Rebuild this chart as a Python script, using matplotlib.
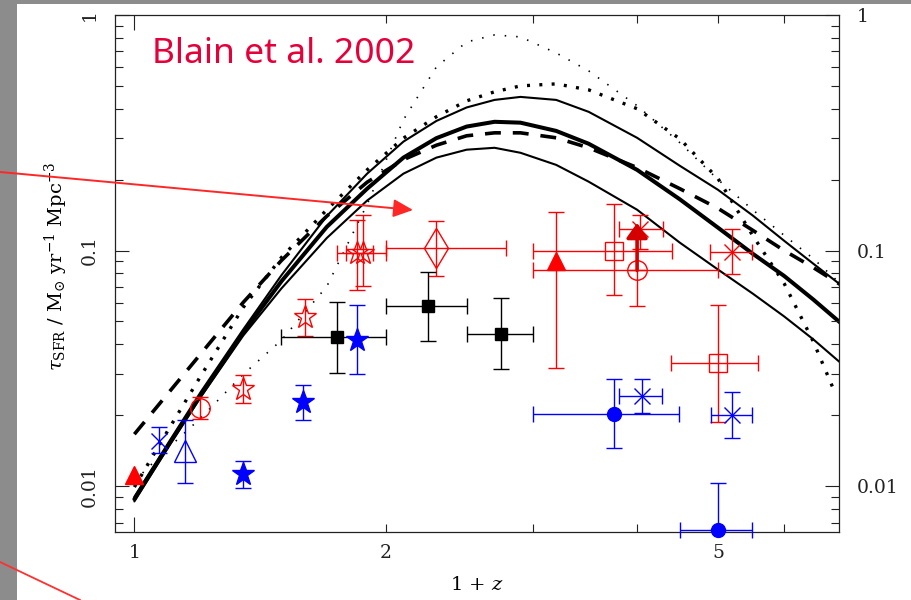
import matplotlib
matplotlib.use("Agg")
import matplotlib.pyplot as plt
from matplotlib.patches import Rectangle, FancyArrowPatch
from matplotlib.lines import Line2D
from matplotlib.ticker import FixedLocator, FixedFormatter, NullFormatter, FuncFormatter

plt.rcParams["font.family"] = ["DejaVu Serif"]
plt.rcParams["mathtext.fontset"] = "dejavuserif"

# ---------------- model star-formation histories (1+z grid) ----------------
opz = [1.0, 1.1, 1.2, 1.35, 1.5, 1.7, 1.9, 2.1, 2.3, 2.5, 2.7, 2.9, 3.2, 3.5,
       4.0, 4.5, 5.0, 5.5, 6.0, 6.5, 7.0]
opz_steep = opz[:-1] + [6.9]

sfr_solid_high = [0.0090, 0.0154, 0.0250, 0.0462, 0.0785, 0.140, 0.212, 0.290,
                  0.355, 0.405, 0.436, 0.449, 0.436, 0.388, 0.301, 0.229, 0.181,
                  0.141, 0.110, 0.088, 0.0718]
sfr_solid_mid = [0.0088, 0.0150, 0.0242, 0.0448, 0.0740, 0.126, 0.183, 0.248,
                 0.300, 0.336, 0.352, 0.349, 0.322, 0.284, 0.220, 0.165, 0.125,
                 0.097, 0.078, 0.062, 0.0495]
sfr_solid_low = [0.0086, 0.0148, 0.0238, 0.0435, 0.0690, 0.113, 0.163, 0.212,
                 0.248, 0.268, 0.273, 0.260, 0.231, 0.196, 0.149, 0.108, 0.083,
                 0.0657, 0.0525, 0.0420, 0.0335]
sfr_dashed = [0.0166, 0.0250, 0.0363, 0.0602, 0.0907, 0.140, 0.195, 0.243,
              0.280, 0.307, 0.316, 0.316, 0.301, 0.273, 0.225, 0.183, 0.151,
              0.122, 0.100, 0.0847, 0.0718]
sfr_dotted_bold = [0.0099, 0.0175, 0.0292, 0.0573, 0.0934, 0.149, 0.220, 0.300,
                   0.370, 0.432, 0.472, 0.500, 0.510, 0.481, 0.400, 0.298, 0.202,
                   0.116, 0.0725, 0.0412, 0.0250]
sfr_dotted_fine = [0.0105, 0.0146, 0.0194, 0.0298, 0.0416, 0.0704, 0.157, 0.359,
                   0.602, 0.768, 0.823, 0.807, 0.690, 0.579, 0.412, 0.287, 0.200,
                   0.149, 0.116, 0.0925, 0.0725]

# ---------------- observed points: x, y and error-bar bounds ----------------
# red: submm / radio / IR estimates
red_tri_x = [1.0, 3.2]
red_tri_y = [0.0111, 0.0907]
red_tri_xlo = [None, None]
red_tri_xhi = [None, None]
red_tri_ylo = [None, 0.0316]
red_tri_yhi = [None, 0.146]

red_circ_x = [1.2, 4.0]
red_circ_y = [0.0214, 0.0823]
red_circ_xlo = [None, 3.0]
red_circ_xhi = [None, 5.0]
red_circ_ylo = [0.0192, 0.0579]
red_circ_yhi = [0.0238, 0.0823]

red_star_x = [1.35, 1.6, 1.85, 1.88]
red_star_y = [0.0258, 0.052, 0.098, 0.098]
red_star_xlo = [None, None, 1.75, 1.79]
red_star_xhi = [None, None, 2.0, 1.93]
red_star_ylo = [0.0225, 0.0432, 0.0677, 0.0704]
red_star_yhi = [0.0295, 0.062, 0.135, 0.142]

red_diam_x = [2.3]
red_diam_y = [0.102]
red_diam_xlo = [2.0]
red_diam_xhi = [2.79]
red_diam_ylo = [0.0776]
red_diam_yhi = [0.133]

red_sq_x = [3.75, 5.0]
red_sq_y = [0.100, 0.0332]
red_sq_xlo = [3.0, 4.39]
red_sq_xhi = [4.4, 5.58]
red_sq_ylo = [0.0645, 0.0187]
red_sq_yhi = [0.158, 0.0585]

red_ast_x = [4.03, 5.2]
red_ast_y = [0.123, 0.099]
red_ast_xlo = [3.81, 4.89]
red_ast_xhi = [4.30, 5.49]
red_ast_ylo = [0.101, 0.0792]
red_ast_yhi = [0.142, 0.124]

# lower limit drawn as an arrow
limit_x = 4.0
limit_from = 0.0823
limit_to = 0.131

# black: optical / UV estimates
blk_sq_x = [1.75, 2.25, 2.75]
blk_sq_y = [0.0428, 0.0579, 0.0441]
blk_sq_xlo = [1.50, 2.0, 2.5]
blk_sq_xhi = [2.0, 2.5, 3.0]
blk_sq_ylo = [0.0301, 0.0411, 0.0313]
blk_sq_yhi = [0.0602, 0.0807, 0.0626]

# blue: H-alpha / UV estimates
blu_ast_x = [1.07, 4.05, 5.2]
blu_ast_y = [0.0155, 0.0241, 0.0200]
blu_ast_xlo = [None, 3.81, 4.9]
blu_ast_xhi = [None, 4.28, 5.49]
blu_ast_ylo = [0.0138, 0.0204, 0.016]
blu_ast_yhi = [0.0178, 0.0284, 0.025]

blu_tri_x = [1.15]
blu_tri_y = [0.0141]
blu_tri_xlo = [None]
blu_tri_xhi = [None]
blu_tri_ylo = [0.0103]
blu_tri_yhi = [0.019]

blu_star_x = [1.35, 1.59, 1.85]
blu_star_y = [0.01125, 0.0227, 0.0416]
blu_star_xlo = [None, None, None]
blu_star_xhi = [None, None, None]
blu_star_ylo = [0.00985, 0.019, 0.0298]
blu_star_yhi = [0.0128, 0.0268, 0.0586]

blu_circ_x = [3.75, 5.0]
blu_circ_y = [0.0202, 0.00651]
blu_circ_xlo = [3.0, 4.5]
blu_circ_xhi = [4.49, 5.49]
blu_circ_ylo = [0.0145, 0.00651]
blu_circ_yhi = [0.0284, 0.0103]

# axis ticks
x_major = [1.0]
x_minor = [2, 3, 4, 5, 6]
x_minor_labels = {2: "2", 5: "5"}
y_major = [0.01, 0.1, 1.0]
y_major_labels = ["0.01", "0.1", "1"]
y_minor = [k * 10.0 ** e for e in (-3, -2, -1) for k in range(2, 10)]

RED = "#ff0000"
BLUE = "#0000ff"
BLACK = "#000000"

# ---------------- figure ----------------
W, H = 912, 600
fig = plt.figure(figsize=(W / 100, H / 100), dpi=100)
fig.patch.set_facecolor("white")

# slide frame
fig.add_artist(Rectangle((0, 0), 17 / W, 1, transform=fig.transFigure,
                         facecolor="#8c8c8c", edgecolor="none", zorder=0))
fig.add_artist(Rectangle((0, 1 - 4 / H), 1, 4 / H, transform=fig.transFigure,
                         facecolor="#8c8c8c", edgecolor="none", zorder=0))

ax = fig.add_axes([115 / W, 1 - 532 / H, 724 / W, 517 / H])
ax.set_xscale("log")
ax.set_yscale("log")
ax.set_xlim(0.948, 6.98)
ax.set_ylim(0.00638, 1.0)

# model curves
ax.plot(opz, sfr_solid_high, color=BLACK, lw=1.5, solid_capstyle="round", zorder=2)
ax.plot(opz, sfr_solid_mid, color=BLACK, lw=2.9, solid_capstyle="round", zorder=2)
ax.plot(opz, sfr_solid_low, color=BLACK, lw=1.5, solid_capstyle="round", zorder=2)
ax.plot(opz, sfr_dashed, color=BLACK, lw=2.6, dashes=(4.4, 3.3), zorder=2)
ax.plot(opz_steep, sfr_dotted_bold, color=BLACK, lw=2.4, dashes=(0.9, 2.8), zorder=2)
ax.plot(opz, sfr_dotted_fine, color=BLACK, lw=1.2, dashes=(0.9, 6.0), zorder=2)


def draw_group(x, y, xlo, xhi, ylo, yhi, color, marker, ms, face, mew=1.0):
    for i in range(len(x)):
        xe = None if xlo[i] is None else [[x[i] - xlo[i]], [xhi[i] - x[i]]]
        ye = None if ylo[i] is None else [[y[i] - ylo[i]], [yhi[i] - y[i]]]
        if xe is not None or ye is not None:
            ax.errorbar([x[i]], [y[i]], xerr=xe, yerr=ye, fmt="none",
                        ecolor=color, elinewidth=1.0, capsize=6, capthick=1.0,
                        zorder=3, clip_on=False)
        ax.plot([x[i]], [y[i]], linestyle="none", marker=marker, ms=ms,
                mfc=face, mec=color, mew=mew, zorder=4, clip_on=False)


draw_group(red_tri_x, red_tri_y, red_tri_xlo, red_tri_xhi, red_tri_ylo, red_tri_yhi,
           RED, "^", 13, RED)
draw_group(red_circ_x, red_circ_y, red_circ_xlo, red_circ_xhi, red_circ_ylo, red_circ_yhi,
           RED, "o", 14, "none")
draw_group(red_star_x, red_star_y, red_star_xlo, red_star_xhi, red_star_ylo, red_star_yhi,
           RED, "*", 17, "none")
draw_group(red_diam_x, red_diam_y, red_diam_xlo, red_diam_xhi, red_diam_ylo, red_diam_yhi,
           RED, "d", 20, "none")
draw_group(red_sq_x, red_sq_y, red_sq_xlo, red_sq_xhi, red_sq_ylo, red_sq_yhi,
           RED, "s", 13, "none")
draw_group(red_ast_x, red_ast_y, red_ast_xlo, red_ast_xhi, red_ast_ylo, red_ast_yhi,
           RED, "x", 12, "none")
draw_group(blk_sq_x, blk_sq_y, blk_sq_xlo, blk_sq_xhi, blk_sq_ylo, blk_sq_yhi,
           BLACK, "s", 9, BLACK)
draw_group(blu_ast_x, blu_ast_y, blu_ast_xlo, blu_ast_xhi, blu_ast_ylo, blu_ast_yhi,
           BLUE, "x", 12, "none")
draw_group(blu_tri_x, blu_tri_y, blu_tri_xlo, blu_tri_xhi, blu_tri_ylo, blu_tri_yhi,
           BLUE, "^", 16, "none")
draw_group(blu_star_x, blu_star_y, blu_star_xlo, blu_star_xhi, blu_star_ylo, blu_star_yhi,
           BLUE, "*", 17, BLUE)
draw_group(blu_circ_x, blu_circ_y, blu_circ_xlo, blu_circ_xhi, blu_circ_ylo, blu_circ_yhi,
           BLUE, "o", 10, BLUE)

ax.annotate("", xy=(limit_x, limit_to), xytext=(limit_x, limit_from),
            arrowprops=dict(arrowstyle="-|>,head_length=0.45,head_width=0.32",
                            color="#d40000", lw=2.6, mutation_scale=20,
                            shrinkA=0, shrinkB=0), zorder=5)

# axes frame and ticks
for s in ax.spines.values():
    s.set_linewidth(0.9)
    s.set_color("#222222")

ax.xaxis.set_major_locator(FixedLocator(x_major))
ax.xaxis.set_major_formatter(FixedFormatter(["1"]))
ax.xaxis.set_minor_locator(FixedLocator(x_minor))
ax.xaxis.set_minor_formatter(FuncFormatter(lambda v, p: x_minor_labels.get(int(round(v)), "")))
ax.yaxis.set_major_locator(FixedLocator(y_major))
ax.yaxis.set_major_formatter(FixedFormatter(y_major_labels))
ax.yaxis.set_minor_locator(FixedLocator(y_minor))
ax.yaxis.set_minor_formatter(NullFormatter())

ax.tick_params(axis="both", which="both", direction="in", top=True, right=False,
               width=0.8, colors="#222222", labelsize=13.5)
ax.tick_params(axis="x", which="major", length=11, pad=9)
ax.tick_params(axis="x", which="minor", length=6, pad=9)
ax.tick_params(axis="y", which="major", length=10, pad=12, labelrotation=90)
ax.tick_params(axis="y", which="minor", length=6)
for lab in ax.get_yticklabels():
    lab.set_verticalalignment("center")

# right-hand axis with horizontal labels
ax2 = ax.twinx()
ax2.set_yscale("log")
ax2.set_ylim(ax.get_ylim())
ax2.yaxis.set_major_locator(FixedLocator(y_major))
ax2.yaxis.set_major_formatter(FixedFormatter(y_major_labels))
ax2.yaxis.set_minor_locator(FixedLocator(y_minor))
ax2.yaxis.set_minor_formatter(NullFormatter())
ax2.tick_params(axis="y", which="both", direction="in", left=False, right=True,
                labelleft=False, labelright=True, width=0.8, colors="#222222",
                labelsize=13.5)
ax2.tick_params(axis="y", which="major", length=10, pad=13)
ax2.tick_params(axis="y", which="minor", length=6)
for s in ax2.spines.values():
    s.set_visible(False)

ax.set_xlabel("1 + $z$", fontsize=14)
ax.xaxis.set_label_coords(0.5, -0.085)
ax.set_ylabel(r"$\tau_{\rm SFR}$ / M$_{\odot}$ yr$^{-1}$ Mpc$^{-3}$", fontsize=14)
ax.yaxis.set_label_coords(-0.062, 0.515)

# slide annotations
fig.text(152 / W, 1 - 63 / H, "Blain et al. 2002", fontsize=25.5, color="#e6003a",
         family="Noto Sans", ha="left", va="baseline")
fig.add_artist(FancyArrowPatch(posA=(0, 1 - 172 / H), posB=(413 / W, 1 - 210 / H),
                               transform=fig.transFigure,
                               arrowstyle="-|>,head_length=12,head_width=5.5",
                               mutation_scale=1, color="#ff2626", lw=1.4,
                               shrinkA=0, shrinkB=0, zorder=10))
fig.add_artist(Line2D([0, 80 / W], [1 - 562 / H, 0], transform=fig.transFigure,
                      color="#ff3030", lw=1.3, zorder=10))

fig.savefig("out.png", dpi=100)
